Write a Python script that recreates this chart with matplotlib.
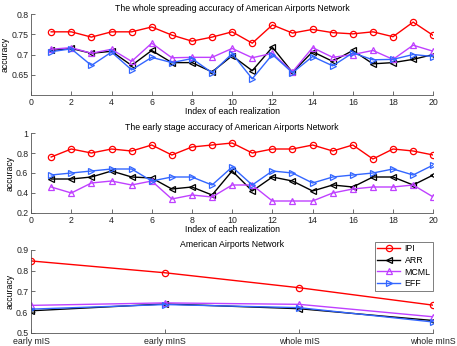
import numpy as np
import matplotlib.pyplot as plt

plt.rcParams['font.family'] = ['Liberation Sans', 'DejaVu Sans']
plt.rcParams['font.size'] = 6.3

idx = np.arange(1, 21)

# whole spreading accuracy
whole_ipi = [0.756, 0.756, 0.743, 0.756, 0.756, 0.768, 0.748, 0.733, 0.743, 0.756,
             0.728, 0.773, 0.753, 0.762, 0.754, 0.751, 0.756, 0.744, 0.780, 0.747]
whole_arr = [0.710, 0.715, 0.703, 0.708, 0.673, 0.710, 0.680, 0.680, 0.657, 0.697,
             0.660, 0.718, 0.656, 0.707, 0.683, 0.710, 0.677, 0.680, 0.688, 0.700]
whole_mcml = [0.713, 0.717, 0.703, 0.713, 0.683, 0.728, 0.692, 0.693, 0.693, 0.715,
              0.692, 0.703, 0.657, 0.717, 0.693, 0.700, 0.710, 0.688, 0.723, 0.708]
whole_eff = [0.707, 0.714, 0.673, 0.706, 0.662, 0.693, 0.680, 0.690, 0.655, 0.702,
             0.640, 0.700, 0.655, 0.695, 0.672, 0.704, 0.687, 0.688, 0.700, 0.695]

# early stage accuracy
early_ipi = [0.76, 0.84, 0.80, 0.84, 0.82, 0.88, 0.78, 0.86, 0.88, 0.90,
             0.80, 0.84, 0.84, 0.88, 0.82, 0.88, 0.74, 0.84, 0.82, 0.78]
early_arr = [0.54, 0.54, 0.56, 0.62, 0.56, 0.55, 0.44, 0.46, 0.38, 0.62,
             0.42, 0.56, 0.52, 0.42, 0.48, 0.46, 0.56, 0.56, 0.48, 0.58]
early_mcml = [0.46, 0.40, 0.50, 0.52, 0.48, 0.52, 0.34, 0.38, 0.36, 0.48,
              0.48, 0.32, 0.32, 0.32, 0.40, 0.44, 0.46, 0.46, 0.48, 0.36]
early_eff = [0.58, 0.60, 0.62, 0.64, 0.64, 0.52, 0.56, 0.56, 0.48, 0.66,
             0.48, 0.62, 0.60, 0.50, 0.56, 0.58, 0.60, 0.64, 0.58, 0.68]

# summary
cats = ['early mIS', 'early mInS', 'whole mIS', 'whole mInS']
sum_ipi = [0.847, 0.790, 0.718, 0.634]
sum_arr = [0.607, 0.640, 0.617, 0.560]
sum_mcml = [0.633, 0.645, 0.638, 0.578]
sum_eff = [0.615, 0.637, 0.622, 0.553]

RED = '#ff0000'
BLACK = '#000000'
PURPLE = '#bf40ff'
BLUE = '#3366ff'
styles = [('IPI', RED, 'o'), ('ARR', BLACK, '<'), ('MCML', PURPLE, '^'), ('EFF', BLUE, '>')]


def style_ax(ax):
    for s in ['top', 'right']:
        ax.spines[s].set_visible(False)
    for s in ['left', 'bottom']:
        ax.spines[s].set_color('#555555')
        ax.spines[s].set_linewidth(0.6)
    ax.tick_params(direction='in', length=3, width=0.6, colors='#555555',
                   labelcolor='#222222', labelsize=6.3, pad=2)


def draw(ax, x, series):
    for (name, col, mk), y in zip(styles, series):
        ax.plot(x, y, color=col, marker=mk, markersize=4.5, markerfacecolor='none',
                markeredgewidth=0.9, linewidth=1.0, label=name)


fig = plt.figure(figsize=(4.57, 3.46), dpi=100)
L, W = 0.068, 0.88

ax1 = fig.add_axes([L, 0.7254, W, 0.2341])
draw(ax1, idx, [whole_ipi, whole_arr, whole_mcml, whole_eff])
ax1.set_xlim(0, 20)
ax1.set_ylim(0.6, 0.8)
ax1.set_xticks(range(0, 21, 2))
ax1.set_yticks([0.65, 0.7, 0.75, 0.8])
ax1.set_yticklabels(['0.65', '0.7', '0.75', '0.8'])
ax1.set_title('The whole spreading accuracy of American Airports Network', fontsize=6.3, pad=2)
ax1.set_xlabel('Index of each realization', labelpad=0.5)
ax1.set_ylabel('accuracy', labelpad=1)
style_ax(ax1)

ax2 = fig.add_axes([L, 0.3844, W, 0.2312])
draw(ax2, idx, [early_ipi, early_arr, early_mcml, early_eff])
ax2.set_xlim(0, 20)
ax2.set_ylim(0.2, 1.0)
ax2.set_xticks(range(0, 21, 2))
ax2.set_yticks([0.2, 0.4, 0.6, 0.8, 1.0])
ax2.set_yticklabels(['0.2', '0.4', '0.6', '0.8', '1'])
ax2.set_title('The early stage accuracy of American Airports Network', fontsize=6.3, pad=2)
ax2.set_xlabel('Index of each realization', labelpad=0.5)
ax2.set_ylabel('accuracy', labelpad=1)
style_ax(ax2)

ax3 = fig.add_axes([L, 0.0376, W, 0.240])
draw(ax3, np.arange(1, 5), [sum_ipi, sum_arr, sum_mcml, sum_eff])
ax3.set_xlim(1, 4)
ax3.set_ylim(0.5, 0.9)
ax3.set_xticks([1, 2, 3, 4])
ax3.set_xticklabels(cats)
ax3.set_yticks([0.5, 0.6, 0.7, 0.8, 0.9])
ax3.set_title('American Airports Network', fontsize=6.3, pad=2)
ax3.set_ylabel('accuracy', labelpad=1)
style_ax(ax3)
ax3.tick_params(axis='x', pad=3)
leg = ax3.legend(loc='upper right', bbox_to_anchor=(1.0, 1.1), borderaxespad=0,
                 fontsize=6.3, fancybox=False, edgecolor='#444444', handlelength=2.6,
                 borderpad=0.3, labelspacing=0.3, handletextpad=0.5)
leg.get_frame().set_linewidth(0.6)

fig.savefig('out.png', dpi=100)
